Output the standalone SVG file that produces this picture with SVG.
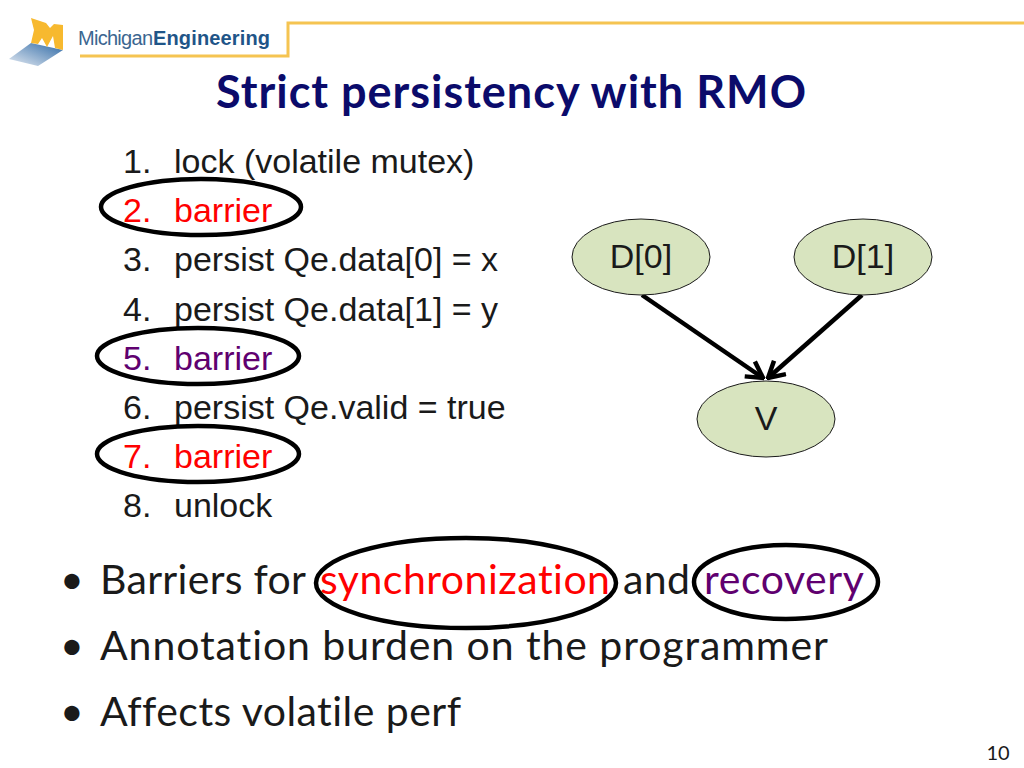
<svg xmlns="http://www.w3.org/2000/svg" width="1024" height="768" viewBox="0 0 1024 768">
<style>
text{font-variant-ligatures:none}
.l{font-family:"Liberation Sans",Arial,sans-serif;font-size:34px;fill:#1a1a1a}
.c{font-family:Lato,"Open Sans",sans-serif;font-size:41px;fill:#1a1a1a}
.n{fill:#d8e4bf;stroke:#1a1a1a;stroke-width:1}
.o{fill:none;stroke:#000;stroke-width:4.5}
.e{stroke:#000;stroke-width:4.5;fill:none;marker-end:url(#a)}
.nt{font-family:"Liberation Sans",Arial,sans-serif;font-size:34px;fill:#1a1a1a;text-anchor:middle}
.r{fill:#f00}.p{fill:#60006f}
</style>
<defs>
<marker id="a" markerUnits="userSpaceOnUse" markerWidth="24" markerHeight="22" refX="22" refY="11" orient="auto" viewBox="0 0 24 22"><path d="M6 2L22 11L6 20" fill="none" stroke="#000" stroke-width="4.5"/></marker>
<linearGradient id="s" x1="0" y1="1" x2="1" y2="0"><stop offset="0" stop-color="#e4eaf2"/><stop offset="1" stop-color="#2f6aa6"/></linearGradient>
</defs>
<rect width="1024" height="768" fill="#fff"/>
<g id="logo">
<path d="M1024 23H288V56H80" fill="none" stroke="#f5c451" stroke-width="3"/>
<path d="M9 59L31 43L63 50L38 66Z" fill="url(#s)"/>
<path d="M31 18L46 23L50 28L54 24L63 25L63 50L55 48L53 36L47 47L42 38L38 44L31 43L34 30Z" fill="#f7b92f"/>
<text x="78" y="45" font-family="'Liberation Sans',sans-serif" font-size="20" fill="#3b6690" textLength="75">Michigan</text>
<text x="153" y="45" font-family="'Liberation Sans',sans-serif" font-size="20" font-weight="bold" fill="#1f5588" textLength="117">Engineering</text>
</g>
<text x="216" y="108" textLength="590" font-family="Lato,'Open Sans',sans-serif" font-weight="bold" font-size="45" fill="#0b0b6b">Strict persistency with RMO</text>
<g id="code">
<text class="l" x="123" y="172.500">1.</text><text class="l" x="174" y="172.500">lock (volatile mutex)</text>
<text class="l" x="123" y="221.500" style="fill:#f00">2.</text><text class="l" x="174" y="221.500" style="fill:#f00">barrier</text>
<text class="l" x="123" y="270.500">3.</text><text class="l" x="174" y="270.500">persist Qe.data[0] = x</text>
<text class="l" x="123" y="320.500">4.</text><text class="l" x="174" y="320.500">persist Qe.data[1] = y</text>
<text class="l" x="123" y="369.500" style="fill:#60006f">5.</text><text class="l" x="174" y="369.500" style="fill:#60006f">barrier</text>
<text class="l" x="123" y="418.500">6.</text><text class="l" x="174" y="418.500">persist Qe.valid = true</text>
<text class="l" x="123" y="467.500" style="fill:#f00">7.</text><text class="l" x="174" y="467.500" style="fill:#f00">barrier</text>
<text class="l" x="123" y="516.500">8.</text><text class="l" x="174" y="516.500">unlock</text>
</g>
<g id="circles">
<ellipse class="o" cx="201" cy="207" rx="100" ry="28"/>
<ellipse class="o" cx="198" cy="356" rx="101" ry="28"/>
<ellipse class="o" cx="198" cy="454" rx="101" ry="28"/>
<ellipse class="o" cx="466" cy="583" rx="150" ry="45"/>
<ellipse class="o" cx="786" cy="582" rx="92" ry="37"/>
</g>
<g id="connectors">
<path class="e" d="M642 295L763 378"/>
<path class="e" d="M862 295L768 378"/>
</g>
<g id="node-d0"><ellipse class="n" cx="641" cy="257" rx="69" ry="38"/><text class="nt" x="641" y="268">D[0]</text></g>
<g id="node-d1"><ellipse class="n" cx="863" cy="257" rx="69" ry="38"/><text class="nt" x="863" y="268">D[1]</text></g>
<g id="node-v"><ellipse class="n" cx="766" cy="419" rx="69" ry="38"/><text class="nt" x="766" y="430">V</text></g>
<g id="bullets">
<text class="c" x="60" y="594">•</text>
<text class="c" x="100" y="594" textLength="206">Barriers for</text>
<text class="c r" x="320" y="594" textLength="290">synchronization</text>
<text class="c" x="623" y="594" textLength="67">and</text>
<text class="c p" x="704" y="594" textLength="160">recovery</text>
<text class="c" x="60" y="660">•</text>
<text class="c" x="100" y="660" textLength="728">Annotation burden on the programmer</text>
<text class="c" x="60" y="726">•</text>
<text class="c" x="100" y="726" textLength="361">Affects volatile perf</text>
</g>
<text x="998" y="760" text-anchor="middle" font-family="Lato,sans-serif" font-size="20" fill="#1a1a1a">10</text>
</svg>
